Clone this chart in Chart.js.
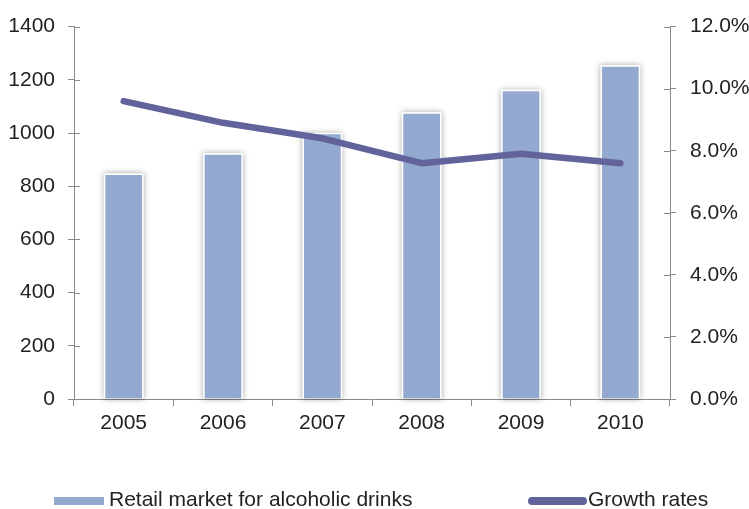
<!DOCTYPE html>
<html>
<head>
<meta charset="utf-8">
<script src="https://cdn.jsdelivr.net/npm/chart.js@4/dist/chart.umd.min.js"></script>
<style>
    html, body { margin: 0; padding: 0; background: #fff; }
    #quadro { position: relative; width: 749px; height: 509px; overflow: hidden; }
    #legenda {
        position: absolute; left: 0; top: 0; width: 749px; height: 509px; pointer-events: none;
        font-family: 'Liberation Sans', Arial, sans-serif; font-size: 21px; color: #222;
    }
    .texto { position: absolute; top: 487px; white-space: nowrap; line-height: 24px; }
    .amostra { position: absolute; }
</style>
</head>
<body>
<div id="quadro">
    <canvas id="vendasChart" width="749" height="509"></canvas>
    <div id="legenda"></div>
</div>
<script>
// Dados do gráfico
const anos = ['2005', '2006', '2007', '2008', '2009', '2010'];
const mercadoVarejo = [848, 924, 1001, 1078, 1163, 1255];
const taxasCrescimento = [9.6, 8.9, 8.4, 7.6, 7.9, 7.6];
const rotuloBarras = 'Retail market for alcoholic drinks';
const rotuloLinha = 'Growth rates';

// Eixos: 0-1400 à esquerda, 0-12% à direita
const eixoEsqMax = 1400;
const eixoEsqPasso = 200;
const eixoDirMax = 12;
const eixoDirPasso = 2;

const corBarra = '#93a9d0';
const corLinha = '#62639b';
const corEixo = '#8a8a8a';
const corTexto = '#222';

Chart.defaults.font.family = "'Liberation Sans', Arial, sans-serif";
Chart.defaults.font.size = 21;
Chart.defaults.color = corTexto;

// sombra clara em volta das barras (o Chart.js recorta a borda, então desenha antes)
const sombraBarras = {
    id: 'sombraBarras',
    beforeDatasetDraw(chart, args) {
        if (args.meta.type !== 'bar') return;
        const ctx = chart.ctx;
        ctx.save();
        ctx.shadowColor = 'rgba(0,0,0,0.35)';
        ctx.shadowBlur = 6;
        ctx.fillStyle = '#fff';
        args.meta.data.forEach(barra => {
            const { x, y, base, width } = barra.getProps(['x', 'y', 'base', 'width'], true);
            ctx.fillRect(x - width / 2, y, width, base - y);
        });
        ctx.restore();
    }
};

// marcas dos eixos Y cruzando para dentro da área
const marcasInternas = {
    id: 'marcasInternas',
    afterDraw(chart) {
        const ctx = chart.ctx;
        ctx.save();
        ctx.strokeStyle = corEixo;
        ctx.lineWidth = 1;
        ['y', 'y1'].forEach(id => {
            const escala = chart.scales[id];
            const xEixo = id === 'y' ? escala.right : escala.left;
            const dentro = id === 'y' ? 6 : -6;
            escala.ticks.forEach((t, i) => {
                const py = Math.round(escala.getPixelForTick(i)) + 0.5;
                ctx.beginPath();
                ctx.moveTo(xEixo, py);
                ctx.lineTo(xEixo + dentro, py);
                ctx.stroke();
            });
        });
        ctx.restore();
    }
};

const ctx = document.getElementById('vendasChart').getContext('2d');

const meuGrafico = new Chart(ctx, {
    data: {
        labels: anos,
        datasets: [{
            type: 'line',
            label: rotuloLinha,
            data: taxasCrescimento,
            yAxisID: 'y1',
            borderColor: corLinha,
            backgroundColor: corLinha,
            borderWidth: 6.5,
            borderCapStyle: 'round',
            borderJoinStyle: 'round',
            pointRadius: 0,
            tension: 0,
            order: 0
        }, {
            type: 'bar',
            label: rotuloBarras,
            data: mercadoVarejo,
            yAxisID: 'y',
            backgroundColor: corBarra,
            borderColor: '#fff',
            borderWidth: 1.5,
            barPercentage: 0.8,
            categoryPercentage: 0.5,
            order: 1
        }]
    },
    options: {
        responsive: false,
        animation: false,
        devicePixelRatio: 1,
        layout: { padding: { top: 12.5, bottom: 70, left: 0, right: 0 } },
        plugins: {
            legend: { display: false },
            tooltip: { enabled: false }
        },
        scales: {
            x: {
                grid: { offset: true, drawOnChartArea: false, tickLength: 7, color: corEixo },
                border: { color: corEixo },
                ticks: { padding: 5, color: corTexto },
                afterFit: s => { s.height = 40; }
            },
            y: {
                position: 'left',
                min: 0,
                max: eixoEsqMax,
                ticks: { stepSize: eixoEsqPasso, padding: 13, color: corTexto, callback: v => String(v) },
                grid: { drawOnChartArea: false, tickLength: 6, color: corEixo },
                border: { color: corEixo },
                afterFit: s => { s.width = 74; }
            },
            y1: {
                position: 'right',
                min: 0,
                max: eixoDirMax,
                ticks: {
                    stepSize: eixoDirPasso,
                    padding: 14,
                    color: corTexto,
                    callback: v => v.toFixed(1) + '%'
                },
                grid: { drawOnChartArea: false, tickLength: 6, color: corEixo },
                border: { color: corEixo },
                afterFit: s => { s.width = 79; }
            }
        }
    },
    plugins: [sombraBarras, marcasInternas]
});

// legenda em HTML, montada a partir dos datasets
function montarLegenda(grafico) {
    const caixa = document.getElementById('legenda');
    const barras = grafico.data.datasets[1];
    const linha = grafico.data.datasets[0];

    caixa.innerHTML =
        `<span class="amostra" style="left:54px;top:497px;width:50px;height:7.5px;background:${barras.backgroundColor}"></span>` +
        `<span class="texto" style="left:109px">${barras.label}</span>` +
        `<span class="amostra" style="left:528px;top:496.5px;width:59px;height:8px;border-radius:4px;background:${linha.borderColor}"></span>` +
        `<span class="texto" style="left:588px">${linha.label}</span>`;
}

montarLegenda(meuGrafico);
</script>
</body>
</html>
